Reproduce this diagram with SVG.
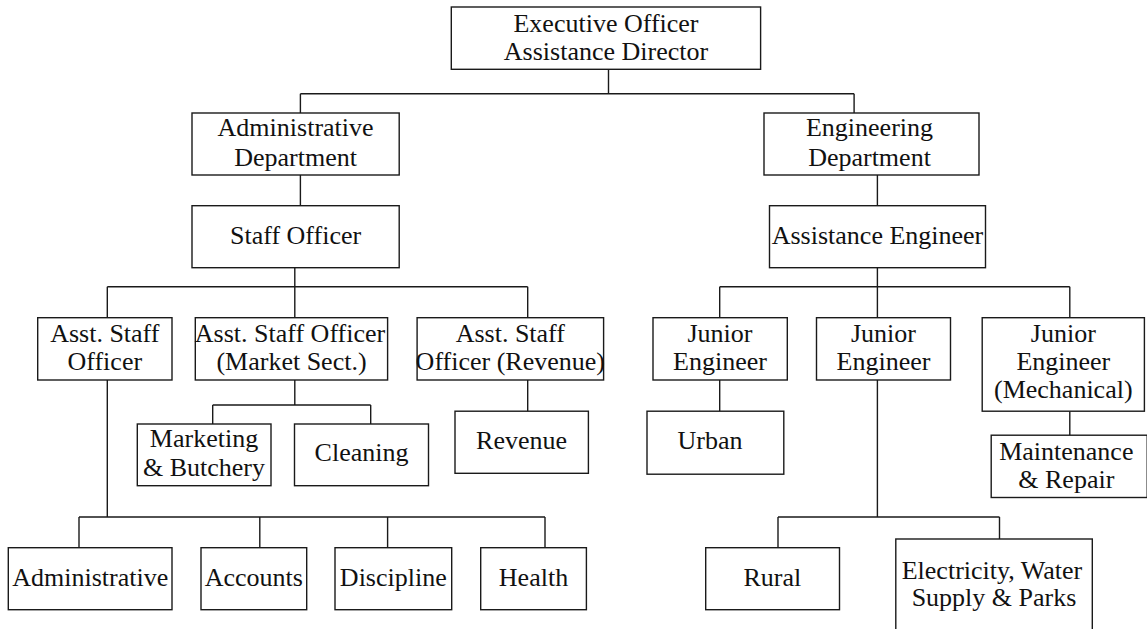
<svg xmlns="http://www.w3.org/2000/svg" width="1147" height="629" viewBox="0 0 1147 629">
<style>
.b{fill:#fff;stroke:#1a1a1a;stroke-width:1.4}
.t{font-family:'Liberation Serif','DejaVu Serif',serif;font-size:26px;fill:#111;text-anchor:middle}
.c{fill:none;stroke:#1a1a1a;stroke-width:1.4}
</style>
<rect width="1147" height="629" fill="#fff"/>
<g id="connectors" class="c">
<path d="M608.5 69.3V93.7M300.4 93.7H854.1M300.4 93.7V113M854.1 93.7V113"/>
<path d="M300.4 175V205.7M294.8 267.7V286.7M107.3 286.7H527.7M107.3 286.7V317.7M294.8 286.7V317.7M527.7 286.7V317.7"/>
<path d="M107.3 380V517M79 517H545M79 517V547.7M259.8 517V547.7M387.6 517V547.7M545 517V547.7"/>
<path d="M294.8 380V405M212.7 405H370.7M212.7 405V424M370.7 405V424M527.7 380V411.2"/>
<path d="M877.4 175V205.7M877.4 267.7V286.7M719.7 286.7H1069.8M719.7 286.7V317.7M877.4 286.7V317.7M1069.8 286.7V317.7"/>
<path d="M719.7 380V411.2M877.4 380V517M778 517H999.5M778 517V547.7M999.5 517V539M1069.8 411.2V435.2"/>
</g>
<g id="exec"><rect class="b" x="451.3" y="7" width="309.3" height="62.3"/><text class="t" x="606" y="31.7">Executive Officer</text><text class="t" x="606" y="60.3">Assistance Director</text></g>
<g id="adminDept"><rect class="b" x="192" y="113" width="207.2" height="62"/><text class="t" x="295.6" y="136">Administrative</text><text class="t" x="295.6" y="165.7">Department</text></g>
<g id="engDept"><rect class="b" x="764" y="113" width="215" height="62"/><text class="t" x="869.5" y="136">Engineering</text><text class="t" x="869.5" y="165.7">Department</text></g>
<g id="staffOfficer"><rect class="b" x="192" y="205.7" width="207.2" height="62"/><text class="t" x="295.6" y="244.3">Staff Officer</text></g>
<g id="asstEngineer"><rect class="b" x="769.5" y="205.7" width="216" height="62"/><text class="t" x="877.5" y="244.3">Assistance Engineer</text></g>
<g id="aso1"><rect class="b" x="37.7" y="317.7" width="134.3" height="62.3"/><text class="t" x="104.8" y="342">Asst. Staff</text><text class="t" x="104.8" y="370">Officer</text></g>
<g id="aso2"><rect class="b" x="195.3" y="317.7" width="192.3" height="62.3"/><text class="t" x="290" y="342">Asst. Staff Officer</text><text class="t" x="291.5" y="370">(Market Sect.)</text></g>
<g id="aso3"><rect class="b" x="417.1" y="317.7" width="186.5" height="62.3"/><text class="t" x="510.3" y="342">Asst. Staff</text><text class="t" x="510.3" y="370">Officer (Revenue)</text></g>
<g id="je1"><rect class="b" x="653" y="317.7" width="134.3" height="62.3"/><text class="t" x="720" y="342">Junior</text><text class="t" x="720" y="370">Engineer</text></g>
<g id="je2"><rect class="b" x="816.5" y="317.7" width="134" height="62.3"/><text class="t" x="883.5" y="342">Junior</text><text class="t" x="883.5" y="370">Engineer</text></g>
<g id="je3"><rect class="b" x="982.2" y="317.7" width="162.2" height="93.5"/><text class="t" x="1063.3" y="342">Junior</text><text class="t" x="1063.3" y="370">Engineer</text><text class="t" x="1063.3" y="398.3">(Mechanical)</text></g>
<g id="marketing"><rect class="b" x="137.3" y="424" width="133.7" height="61.7"/><text class="t" x="204" y="446.7">Marketing</text><text class="t" x="204" y="475.5">&amp; Butchery</text></g>
<g id="cleaning"><rect class="b" x="294.5" y="424" width="134" height="61.7"/><text class="t" x="361.5" y="460.5">Cleaning</text></g>
<g id="revenue"><rect class="b" x="455" y="411.2" width="133.4" height="62.1"/><text class="t" x="521.6" y="448.8">Revenue</text></g>
<g id="urban"><rect class="b" x="647" y="411.2" width="136.8" height="63"/><text class="t" x="710" y="449.3">Urban</text></g>
<g id="maintenance"><rect class="b" x="991.2" y="435.2" width="156" height="62.3"/><text class="t" x="1066.3" y="460">Maintenance</text><text class="t" x="1066.3" y="487.5">&amp; Repair</text></g>
<g id="administrative"><rect class="b" x="8.3" y="547.7" width="163.7" height="62"/><text class="t" x="90.2" y="586">Administrative</text></g>
<g id="accounts"><rect class="b" x="201" y="547.7" width="105.7" height="62"/><text class="t" x="253.8" y="586">Accounts</text></g>
<g id="discipline"><rect class="b" x="335" y="547.7" width="116.7" height="62"/><text class="t" x="393.3" y="586">Discipline</text></g>
<g id="health"><rect class="b" x="480.7" y="547.7" width="105.7" height="62"/><text class="t" x="533.5" y="586">Health</text></g>
<g id="rural"><rect class="b" x="705.7" y="547.7" width="133.8" height="62"/><text class="t" x="772.3" y="586">Rural</text></g>
<g id="electricity"><rect class="b" x="895.8" y="539" width="196.5" height="100"/><text class="t" x="992" y="578.5">Electricity, Water</text><text class="t" x="994" y="606">Supply &amp; Parks</text></g>
</svg>
